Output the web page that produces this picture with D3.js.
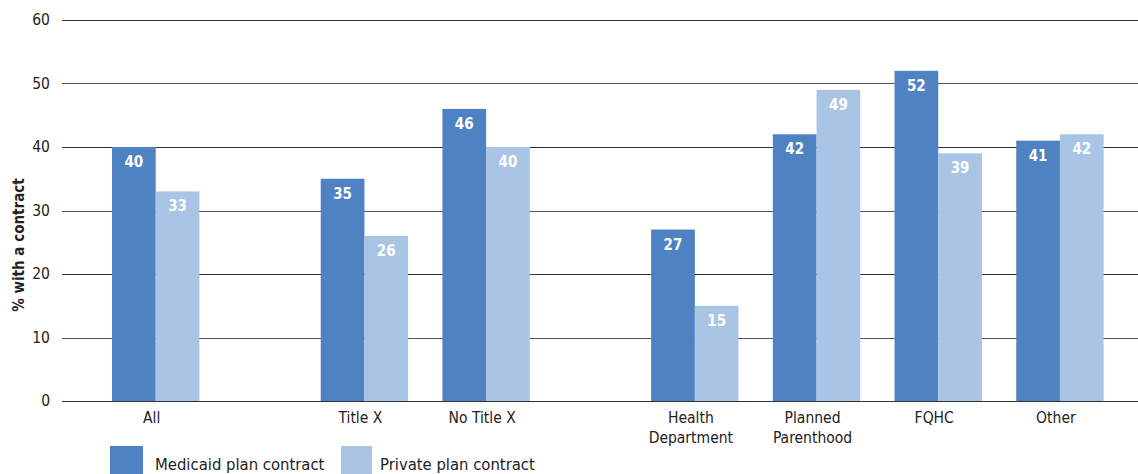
<!DOCTYPE html>
<html>
<head>
<meta charset="utf-8">
<script src="https://cdn.jsdelivr.net/npm/d3@7"></script>
<style>
  body { margin: 0; background: #fff; }
  text { font-family: "DejaVu Sans Condensed", "Roboto", sans-serif; font-stretch: condensed; }
</style>
</head>
<body>
<svg id="chart" width="1138" height="474"></svg>
<script>
// chart values
const categories = ['All', 'Title X', 'No Title X', 'Health Department', 'Planned Parenthood', 'FQHC', 'Other'];
const categoryLines = [['All'], ['Title X'], ['No Title X'], ['Health', 'Department'], ['Planned', 'Parenthood'], ['FQHC'], ['Other']];
const groupOf = [0, 1, 1, 2, 2, 2, 2];
const medicaid = [40, 35, 46, 27, 42, 52, 41];
const privatePlan = [33, 26, 40, 15, 49, 39, 42];
const yTicks = [0, 10, 20, 30, 40, 50, 60];
const seriesNames = ['Medicaid plan contract', 'Private plan contract'];

const colors = ['#4f82c2', '#a9c4e4'];
const svg = d3.select('#chart');
const plotLeft = 62, plotRight = 1138, plotTop = 20, plotBottom = 401;
const font = '"DejaVu Sans Condensed", Roboto, sans-serif';

const y = d3.scaleLinear().domain([0, 60]).range([plotBottom, plotTop]);

// slot position: index plus extra spacing between groups
const slotPos = categories.map((c, i) => i + groupOf[i] * 0.715);
const x = d3.scaleLinear().domain([0, 1]).range([112, 233.7]);
const barW = 43.7;

// gridlines
svg.append('g')
  .selectAll('line')
  .data(yTicks)
  .join('line')
  .attr('x1', plotLeft).attr('x2', plotRight)
  .attr('y1', d => Math.round(y(d)) + 0.5).attr('y2', d => Math.round(y(d)) + 0.5)
  .attr('stroke', (d, i) => i % 2 === 0 ? '#333' : '#555')
  .attr('stroke-width', 1);

const yAxis = d3.axisLeft(y).tickValues(yTicks).tickSize(0).tickPadding(0);
const ya = svg.append('g').attr('transform', 'translate(50,0)').call(yAxis);
ya.select('.domain').remove();
ya.selectAll('text').attr('font-size', 15.5).attr('fill', '#222')
  .style('font-family', font);

svg.append('text')
  .attr('transform', 'translate(24,245) rotate(-90)')
  .attr('text-anchor', 'middle')
  .attr('font-size', 15).attr('font-weight', 'bold').attr('fill', '#222')
  .text('% with a contract');

const rows = categories.map((c, i) => ({c, i, vals: [medicaid[i], privatePlan[i]]}));

const groups = svg.append('g').selectAll('g')
  .data(rows)
  .join('g')
  .attr('transform', d => `translate(${x(slotPos[d.i])},0)`);

groups.selectAll('rect')
  .data(d => d.vals)
  .join('rect')
  .attr('x', (d, k) => k * barW)
  .attr('width', barW)
  .attr('y', d => y(d))
  .attr('height', d => y(0) - y(d))
  .attr('fill', (d, k) => colors[k]);

groups.selectAll('text.val')
  .data(d => d.vals)
  .join('text')
  .attr('class', 'val')
  .attr('x', (d, k) => k * barW + barW / 2)
  .attr('y', d => y(d) + 20)
  .attr('text-anchor', 'middle')
  .attr('font-size', 15).attr('font-weight', 'bold').attr('fill', '#fff')
  .text(d => d);

// x labels
groups.append('text')
  .attr('text-anchor', 'middle')
  .attr('font-size', 15.5).attr('fill', '#222')
  .attr('x', barW - 4)
  .attr('y', 423)
  .selectAll('tspan')
  .data(d => categoryLines[d.i])
  .join('tspan')
  .attr('x', barW - 4)
  .attr('dy', (d, j) => j === 0 ? 0 : 20)
  .text(d => d);

// legend
const legendX = [110, 341];
const leg = svg.append('g').selectAll('g')
  .data(seriesNames)
  .join('g')
  .attr('transform', (d, i) => `translate(${legendX[i]},446)`);
leg.append('rect').attr('width', (d, i) => i === 0 ? 33 : 31).attr('height', 30)
  .attr('fill', (d, i) => colors[i]);
leg.append('text').attr('x', (d, i) => i === 0 ? 45 : 39).attr('y', 24)
  .attr('font-size', 16.5).attr('fill', '#222').text(d => d);
</script>
</body>
</html>
